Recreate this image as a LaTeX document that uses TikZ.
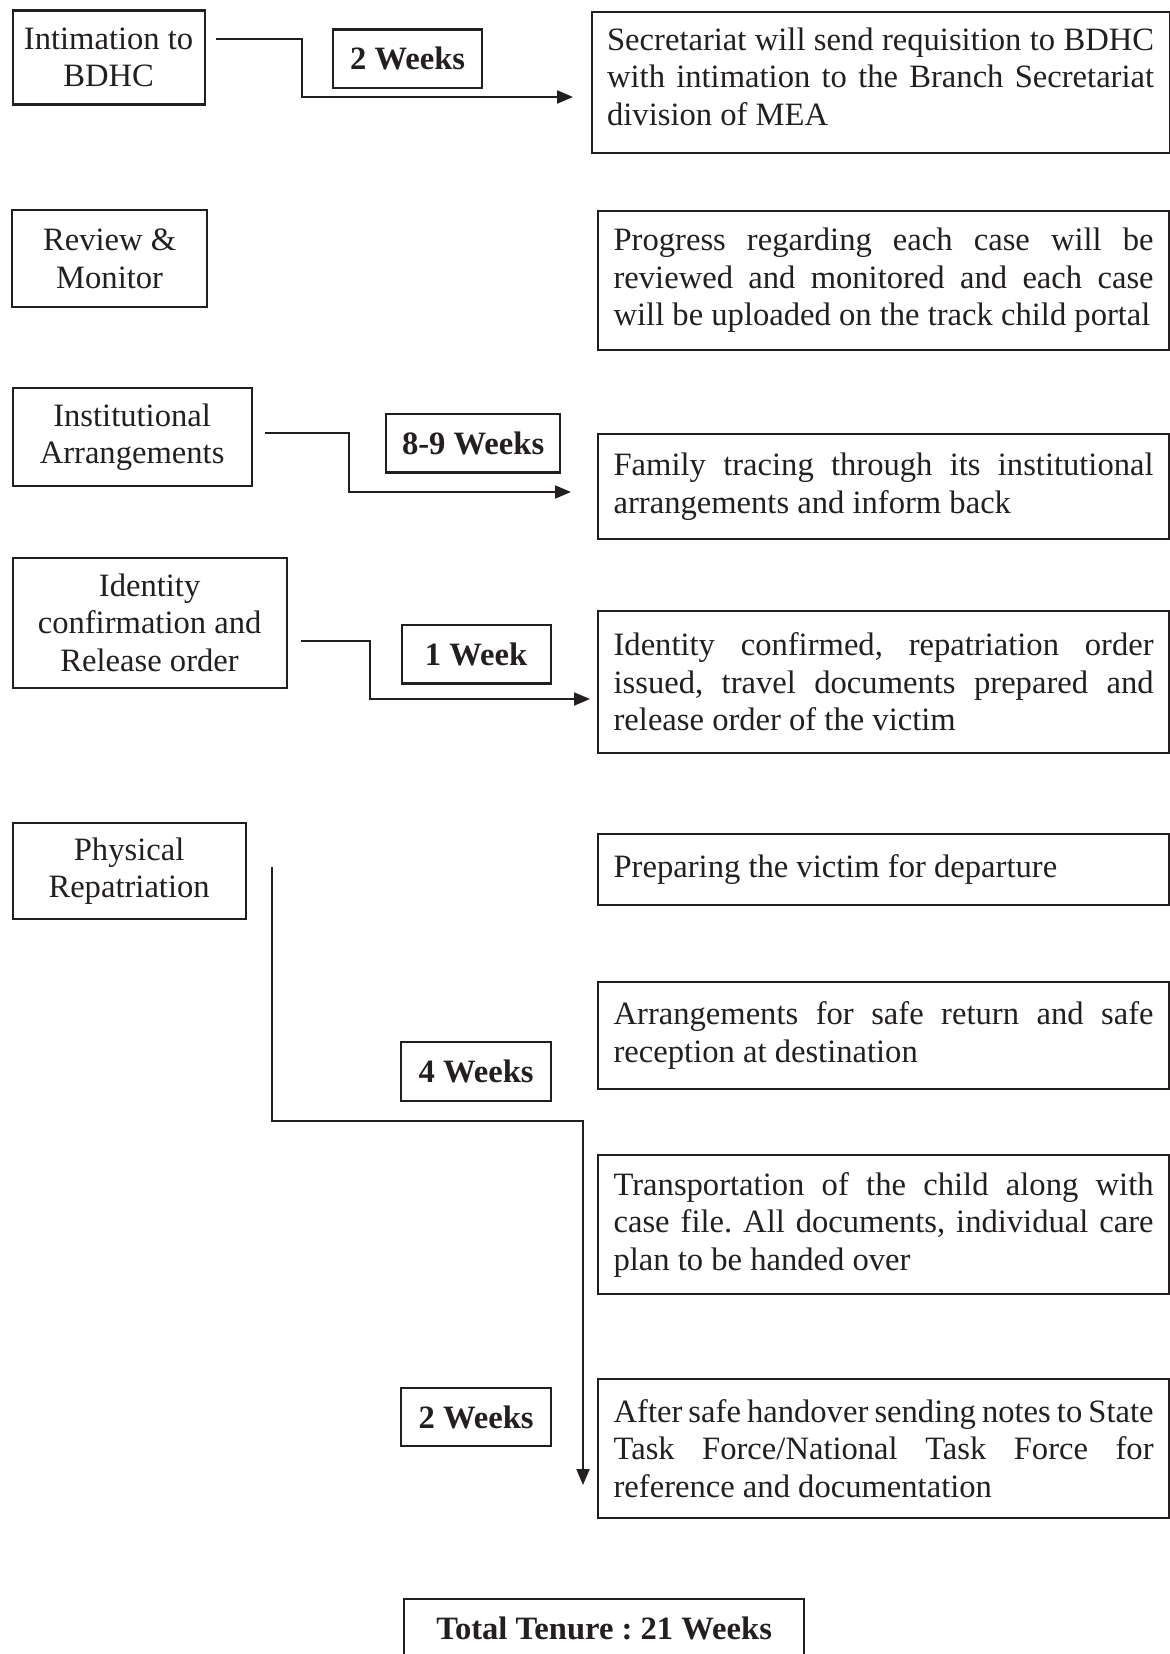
\documentclass[tikz,border=0pt]{standalone}
\usepackage{fontspec}
\setmainfont{Liberation Serif}
\usetikzlibrary{arrows.meta}
\definecolor{ink}{HTML}{231F20}
\hyphenpenalty=10000
\tolerance=10000
\frenchspacing

\begin{document}
\fontsize{16.3pt}{18.75pt}\selectfont
\begin{tikzpicture}[x=0.5pt,y=-0.5pt,>={Triangle[length=8pt,width=6.5pt]},
 color=ink]
 \tikzstyle{stage}=[draw,line width=1.1pt,align=center,inner sep=0pt,anchor=north west]
 \tikzstyle{task}=[draw,line width=1.1pt,align=justify,text width=270pt,inner xsep=7.75pt,inner ysep=0pt,anchor=north west]
 \tikzstyle{weeks}=[draw,line width=1.1pt,font=\bfseries,inner sep=0pt,anchor=north west]
 \tikzstyle{link}=[->,line width=1pt]
 \useasboundingbox (0,0) rectangle (1169,1654);

 \node[stage,minimum width=96pt,minimum height=47pt]    (A) at (11.5,9.3)   {Intimation to\\BDHC};
 \node[stage,minimum width=97.5pt,minimum height=48.5pt] (B) at (11,209)    {Review \&\\Monitor};
 \node[stage,minimum width=119.5pt,minimum height=49pt] (C) at (11.5,387)   {Institutional\\Arrangements};
 \node[stage,minimum width=137pt,minimum height=65pt]   (D) at (11.5,556.5) {Identity\\confirmation and\\Release order};
 \node[stage,minimum width=116.5pt,minimum height=48pt] (E) at (11.5,822)   {Physical\\Repatriation};

 \node[weeks,minimum width=74.5pt,minimum height=29.2pt] (W1) at (332,28.3)  {2 Weeks};
 \node[weeks,minimum width=87pt,minimum height=29.2pt]   (W3) at (385,413)   {8-9 Weeks};
 \node[weeks,minimum width=74.5pt,minimum height=29.2pt] (W4) at (400.5,624) {1 Week};
 \node[weeks,minimum width=75pt,minimum height=29.5pt]   (W5) at (400,1041)  {4 Weeks};
 \node[weeks,minimum width=75pt,minimum height=29pt]     (W6) at (400,1387)  {2 Weeks};
 \node[weeks,minimum width=200pt,minimum height=29.5pt]  (T)  at (403,1598)  {Total Tenure : 21 Weeks};

 \node[task,text width=273.5pt,minimum height=70.5pt] (R1) at (590.5,11)
  {Secretariat will send requisition to BDHC\linebreak with intimation to the Branch Secretariat\linebreak division of MEA\rule[-6pt]{0pt}{0pt}};
 \node[task,minimum height=69.5pt] (R2) at (597,210)
  {Progress regarding each case will be\linebreak reviewed and monitored and each case\linebreak will be uploaded on the track child portal};
 \node[task,minimum height=52.5pt] (R3) at (597,433)
  {Family tracing through its institutional\linebreak arrangements and inform back};
 \node[task,minimum height=71pt] (R4) at (597,610)
  {Identity confirmed, repatriation order\linebreak issued, travel documents prepared and\linebreak release order of the victim};
 \node[task,minimum height=35.5pt] (R5) at (597,833)
  {Preparing the victim for departure};
 \node[task,minimum height=53.5pt] (R6) at (597,981)
  {Arrangements for safe return and safe\linebreak reception at destination};
 \node[task,minimum height=69.5pt] (R7) at (597,1154)
  {Transportation of the child along with\linebreak case file. All documents, individual care\linebreak plan to be handed over};
 \node[task,minimum height=69.5pt] (R8) at (597,1378)
  {After safe handover sending notes to State\linebreak Task Force/National Task Force for\linebreak reference and documentation};

 \coordinate (a1) at (216,39);  \coordinate (b1) at (573,97);
 \coordinate (a3) at (265,433); \coordinate (b3) at (571,492);
 \coordinate (a4) at (301,641); \coordinate (b4) at (590,699);
 \coordinate (a5) at (272,867); \coordinate (b5) at (583,1485);
 \draw[link] (a1) -- ++(86,0) |- (b1);
 \draw[link] (a3) -- ++(84,0) |- (b3);
 \draw[link] (a4) -- ++(69,0) |- (b4);
 \draw[link] (a5) -- ++(0,254) -| (b5);
\end{tikzpicture}
\end{document}
